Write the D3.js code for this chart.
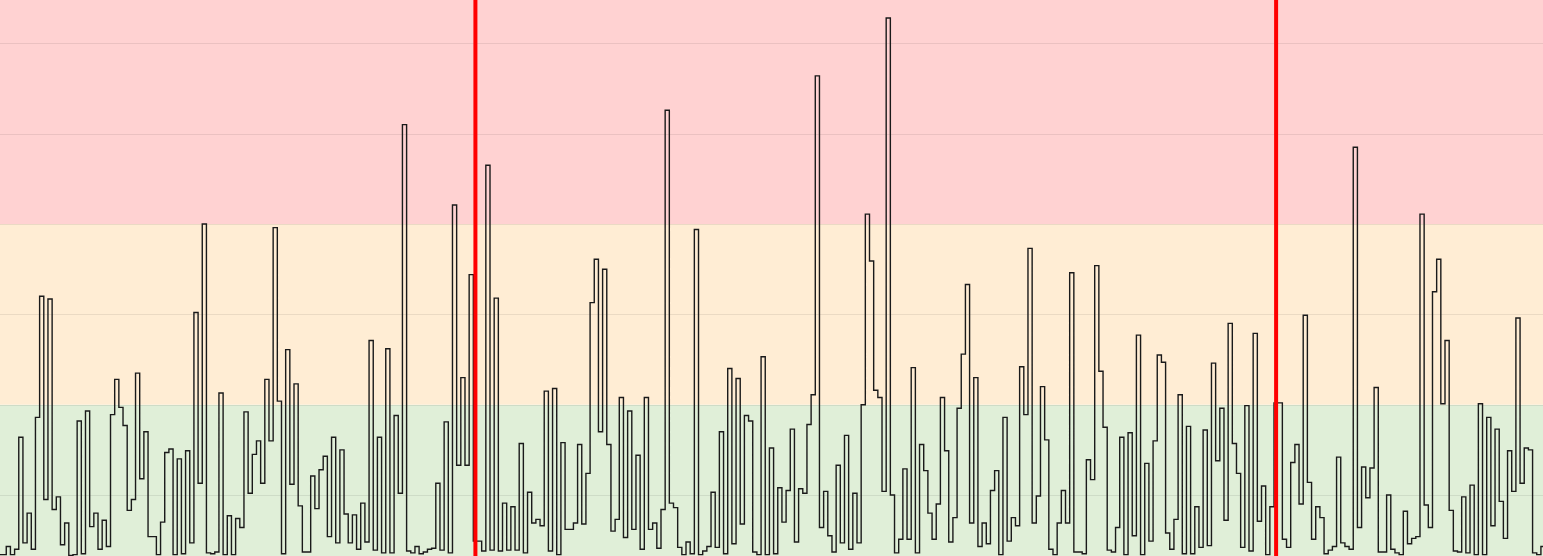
<!DOCTYPE html>
<html>
<head>
<meta charset="utf-8">
<script src="https://cdn.jsdelivr.net/npm/d3@7/dist/d3.min.js"></script>
<style>
  html, body { margin: 0; padding: 0; background: #fff; overflow: hidden; }
  svg { display: block; }
</style>
</head>
<body>
<svg id="chart" width="1543" height="556"></svg>
<script>
// ---- data ----
const values = [
  34,34,43,34,40,164,47,80,40,186,320,95,317,84,98,45,69,33,34,182,35,193,65,80,40,72,43,189,228,197,177,
  83,95,235,118,170,54,54,34,70,147,151,34,140,35,149,47,302,113,400,36,35,37,213,34,77,34,74,64,192,102,145,
  160,113,228,160,396,204,35,261,112,223,88,37,37,121,85,128,143,54,164,47,150,79,47,78,40,91,48,271,39,164,
  36,262,36,188,102,510,38,36,43,35,37,40,41,113,39,181,36,421,133,230,133,344,49,49,38,465,39,318,38,91,39,
  87,39,157,36,103,69,73,66,215,38,218,34,158,62,62,69,156,68,124,313,361,170,350,156,60,73,208,53,193,62,144,
  40,208,62,69,41,84,526,91,86,42,34,48,35,394,34,38,43,103,42,170,35,240,46,229,68,188,182,37,34,253,34,
  152,35,108,70,105,173,48,107,102,178,211,564,64,104,55,37,133,47,166,40,102,47,200,411,359,216,208,104,628,100,36,
  51,129,51,241,36,156,127,80,51,90,208,149,48,75,196,256,333,69,230,43,69,46,105,127,34,186,49,75,66,242,189,
  373,69,99,220,161,40,34,69,105,69,346,37,37,35,139,117,354,237,175,39,37,64,164,34,169,55,277,34,135,49,
  160,255,247,58,40,73,211,35,176,35,87,42,172,44,246,138,196,72,290,157,124,42,199,38,279,71,110,34,87,202,
  202,51,42,136,156,90,299,114,51,87,75,35,39,43,142,47,43,40,485,64,131,97,130,219,37,37,100,40,36,34,82,
  46,52,54,411,89,64,325,361,201,271,83,38,37,98,36,111,34,201,34,186,66,173,93,52,149,104,296,113,152,150,36,34,43
];
const markerIndex = [114, 306];
const bandLevels = [200, 400];          // green < 200 <= orange < 400 <= red
const bandColors = ["#e0efd8", "#ffedd4", "#ffd2d2"];
const gridTicks = [100, 200, 300, 400, 500, 600];
const yDomain = [32.5, 648];

// ---- layout ----
const W = 1543, H = 556;
const svg = d3.select("#chart");
const x = d3.scaleLinear().domain([0, values.length - 1]).range([0, W]);
const y = d3.scaleLinear().domain(yDomain).range([H, 0]);

// bands
const bandEdges = [yDomain[0], ...bandLevels, yDomain[1]];
svg.append("g").selectAll("rect")
  .data(bandColors)
  .join("rect")
  .attr("x", 0)
  .attr("width", W)
  .attr("y", (d, i) => y(bandEdges[i + 1]))
  .attr("height", (d, i) => y(bandEdges[i]) - y(bandEdges[i + 1]))
  .attr("fill", d => d);

// gridlines
svg.append("g").selectAll("line")
  .data(gridTicks)
  .join("line")
  .attr("x1", 0).attr("x2", W)
  .attr("y1", d => Math.round(y(d)) + 0.5)
  .attr("y2", d => Math.round(y(d)) + 0.5)
  .attr("stroke", "#000")
  .attr("stroke-opacity", 0.08)
  .attr("stroke-width", 1);

// step line
const line = d3.line()
  .x((d, i) => x(i))
  .y(d => y(d))
  .curve(d3.curveStep);

svg.append("path")
  .datum(values)
  .attr("d", line)
  .attr("fill", "none")
  .attr("stroke", "#1a1a1a")
  .attr("stroke-width", 1.4);

// red markers
svg.append("g").selectAll("line")
  .data(markerIndex)
  .join("line")
  .attr("x1", d => x(d)).attr("x2", d => x(d))
  .attr("y1", 0).attr("y2", H)
  .attr("stroke", "#ff0000")
  .attr("stroke-width", 4);
</script>
</body>
</html>
